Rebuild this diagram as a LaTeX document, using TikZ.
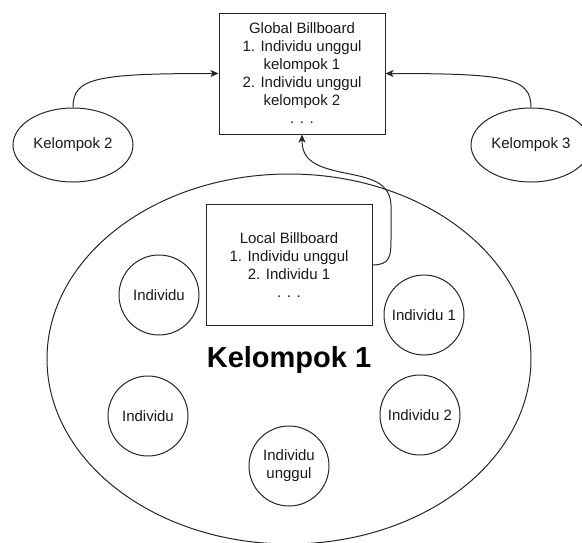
\documentclass[tikz,border=0pt]{standalone}
\usepackage{fontspec}
\setmainfont{Liberation Sans}
\usetikzlibrary{shapes.geometric,arrows.meta}
\begin{document}
\begin{tikzpicture}[x=1pt,y=-1pt,
  shapeline/.style={draw=black!85, line width=1pt},
  txt/.style={font=\fontsize{15}{18}\selectfont, align=center, text=black!90},
  board/.style={shapeline, txt, rectangle, minimum width=166pt, minimum height=121pt, inner sep=0pt},
  person/.style={shapeline, txt, circle, minimum size=80pt, inner sep=0pt},
  group/.style={shapeline, txt, ellipse, minimum width=120pt, minimum height=74pt, inner sep=0pt},
  arr/.style={line width=1pt, draw=black!85, -{Stealth[length=8pt,width=7pt,inset=2pt]}}]
\useasboundingbox (0,0) rectangle (582,542);
\node[shapeline, ellipse, minimum width=484pt, minimum height=370pt, inner sep=0pt] (k1) at (289,359) {};
\node[font=\fontsize{29}{34}\selectfont\bfseries] (k1label) at (289,360) {Kelompok 1};
\node[board] (gb) at (302,73.5) {Global Billboard\\1. Individu unggul\\kelompok 1\\2. Individu unggul\\kelompok 2\\. . .};
\node[board] (lb) at (289,265) {Local Billboard\\1. Individu unggul\\2. Individu 1\\. . .};
\node[group] (k2) at (73,145) {Kelompok 2};
\node[group] (k3) at (531,145) {Kelompok 3};
\node[person] (p1) at (159,295) {Individu};
\node[person] (p2) at (424,315) {Individu 1};
\node[person] (p3) at (148,416) {Individu};
\node[person] (p4) at (420,415) {Individu 2};
\node[person] (p5) at (289,466) {Individu\\unggul};
\draw[arr] (k2.north) .. controls (73,78) and (95,73.5) .. (gb.west);
\draw[arr] (k3.north) .. controls (531,78) and (509,73.5) .. (gb.east);
\draw[arr] (lb.east) .. controls (390,265) and (391,256) .. (391,240) -- (391,205)
  .. controls (390,182) and (370,178) .. (345,173)
  .. controls (315,167) and (302,160) .. (gb.south);
\end{tikzpicture}
\end{document}
